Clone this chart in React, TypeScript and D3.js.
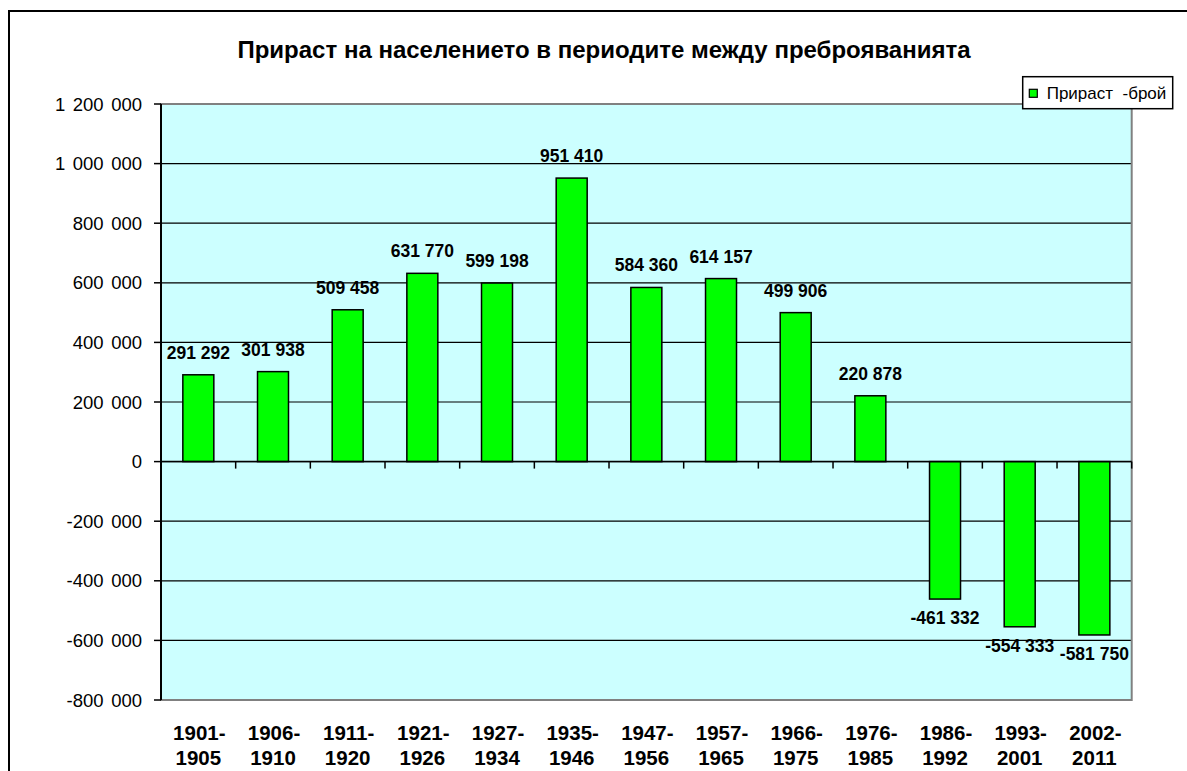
import React from "react";
import * as d3 from "d3";

const periodsTop = ["1901-", "1906-", "1911-", "1921-", "1927-", "1935-", "1947-", "1957-", "1966-", "1976-", "1986-", "1993-", "2002-"];
const periodsBottom = ["1905", "1910", "1920", "1926", "1934", "1946", "1956", "1965", "1975", "1985", "1992", "2001", "2011"];
const growth = [291292, 301938, 509458, 631770, 599198, 951410, 584360, 614157, 499906, 220878, -461332, -554333, -581750];
const yTicks = [1200000, 1000000, 800000, 600000, 400000, 200000, 0, -200000, -400000, -600000, -800000];
const title = "Прираст на населението в периодите между преброяванията";
const legendLabel = "Прираст  -брой";

const W = 1187;
const H = 771;
const plot = { left: 161, right: 1131.7, top: 104, bottom: 700 };

function groups(v: number) {
  const s = Math.abs(v).toString();
  const parts: string[] = [];
  for (let i = s.length; i > 0; i -= 3) parts.unshift(s.slice(Math.max(0, i - 3), i));
  if (v < 0) parts[0] = "-" + parts[0];
  return parts;
}

export default function App() {
  const keys = periodsTop.map((p, i) => p + periodsBottom[i]);
  const x = d3.scaleBand<string>().domain(keys).range([plot.left, plot.right]).padding(0);
  const y = d3.scaleLinear().domain([-800000, 1200000]).range([plot.bottom, plot.top]);
  const bw = x.bandwidth() * 0.415;
  const y0 = y(0);
  const font = "'Liberation Sans', Arial, sans-serif";

  return (
    <svg width={W} height={H} style={{ position: "absolute", left: 0, top: 0, background: "#fff" }} fontFamily={font}>
      <rect x={9} y={11} width={W + 20} height={H + 20} fill="#fff" stroke="#000" strokeWidth={2} />
      <text x={604} y={58} textAnchor="middle" fontSize={24} fontWeight="bold">{title}</text>

      <rect x={plot.left} y={plot.top} width={plot.right - plot.left} height={plot.bottom - plot.top} fill="#CCFFFF" stroke="none" />
      {yTicks.map((t) => (
        <line key={"g" + t} x1={plot.left} x2={plot.right} y1={y(t)} y2={y(t)} stroke="#000" strokeWidth={1.2} />
      ))}
      <rect x={plot.left} y={plot.top} width={plot.right - plot.left} height={plot.bottom - plot.top} fill="none" stroke="#808080" strokeWidth={2} />

      {growth.map((v, i) => {
        const cx = (x(keys[i]) as number) + x.bandwidth() / 2;
        return (
          <rect key={"b" + i} x={cx - bw / 2} y={Math.min(y(v), y0)} width={bw} height={Math.abs(y(v) - y0)} fill="#00FF00" stroke="#000" strokeWidth={1.5} />
        );
      })}

      <line x1={plot.left} x2={plot.right} y1={y0} y2={y0} stroke="#000" strokeWidth={1.5} />
      <line x1={plot.left} x2={plot.left} y1={plot.top} y2={plot.bottom} stroke="#000" strokeWidth={2} />
      {yTicks.map((t) => (
        <g key={"t" + t}>
          <line x1={154} x2={plot.left} y1={y(t)} y2={y(t)} stroke="#000" strokeWidth={1.5} />
          <text x={142} y={y(t) + 6.5} textAnchor="end" fontSize={18.5}>
            {groups(t).map((g, j) => (
              <tspan key={j} dx={j === 0 ? 0 : 7.5}>{g}</tspan>
            ))}
          </text>
        </g>
      ))}
      {keys.map((k, i) => (
        <line key={"xt" + i} x1={(x(k) as number) + x.bandwidth()} x2={(x(k) as number) + x.bandwidth()} y1={y0} y2={y0 + 7} stroke="#000" strokeWidth={1.5} />
      ))}

      {growth.map((v, i) => {
        const cx = (x(keys[i]) as number) + x.bandwidth() / 2;
        const ty = v >= 0 ? y(v) - 16 : y(v) + 25;
        return (
          <text key={"l" + i} x={cx} y={ty} textAnchor="middle" fontSize={17.5} fontWeight="bold">{groups(v).join(" ")}</text>
        );
      })}

      {keys.map((k, i) => {
        const cx = (x(k) as number) + x.bandwidth() / 2;
        return (
          <g key={"xl" + i}>
            <text x={cx + 1} y={740} textAnchor="middle" fontSize={20.5} fontWeight="bold">{periodsTop[i]}</text>
            <text x={cx} y={765} textAnchor="middle" fontSize={20.5} fontWeight="bold">{periodsBottom[i]}</text>
          </g>
        );
      })}

      <rect x={1022.7} y={76.7} width={150} height={32} fill="#fff" stroke="#000" strokeWidth={1.5} />
      <rect x={1029.3} y={89.3} width={8} height={8} fill="#00FF00" stroke="#000" strokeWidth={1.2} />
      <text x={1046.7} y={99} fontSize={17} style={{ whiteSpace: "pre" }}>{legendLabel}</text>
    </svg>
  );
}
